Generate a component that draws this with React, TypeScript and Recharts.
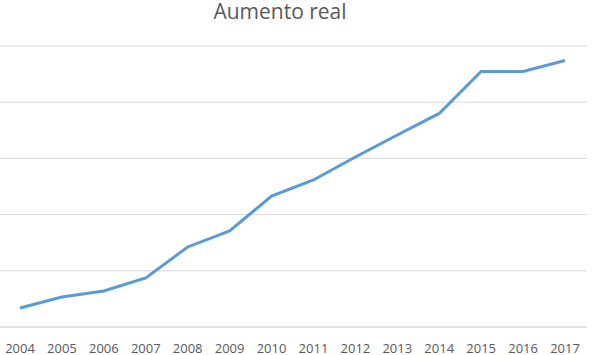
import React from "react";
import { LineChart, Line, XAxis, YAxis, CartesianGrid } from "recharts";

const years = ["2004","2005","2006","2007","2008","2009","2010","2011","2012","2013","2014","2015","2016","2017"];
const values = [16.9, 26.7, 32, 43.6, 71.2, 85.4, 116.5, 130.8, 151.2, 170.8, 190, 227.3, 227.3, 237.1];
const yTicks = [0, 50, 100, 150, 200, 250];

const data = years.map((y, i) => ({ year: y, value: values[i] }));

export default function App() {
  return (
    <div style={{ position: "absolute", left: 0, top: 0, width: 600, height: 355, background: "#fff" }}>
      <div
        style={{
          position: "absolute",
          left: 0,
          width: 560,
          top: 0,
          textAlign: "center",
          fontFamily: "'Open Sans', sans-serif",
          fontSize: 21,
          lineHeight: "22px",
          color: "#595959",
        }}
      >
        Aumento real
      </div>
      <LineChart width={600} height={355} data={data} margin={{ top: 46, right: 13, bottom: 0, left: 0 }}>
        <CartesianGrid vertical={false} stroke="#d9d9d9" strokeWidth={1} />
        <YAxis hide domain={[0, 250]} ticks={yTicks} />
        <XAxis
          dataKey="year"
          height={28}
          padding={{ left: 20, right: 22 }}
          axisLine={{ stroke: "#d9d9d9" }}
          tickLine={false}
          tickSize={0}
          tickMargin={17}
          interval={0}
          tick={{ fill: "#595959", fontSize: 13, fontFamily: "'Open Sans', sans-serif" }}
        />
        <Line
          type="linear"
          dataKey="value"
          stroke="#5b9bd5"
          strokeWidth={3}
          dot={false}
          isAnimationActive={false}
        />
      </LineChart>
    </div>
  );
}
